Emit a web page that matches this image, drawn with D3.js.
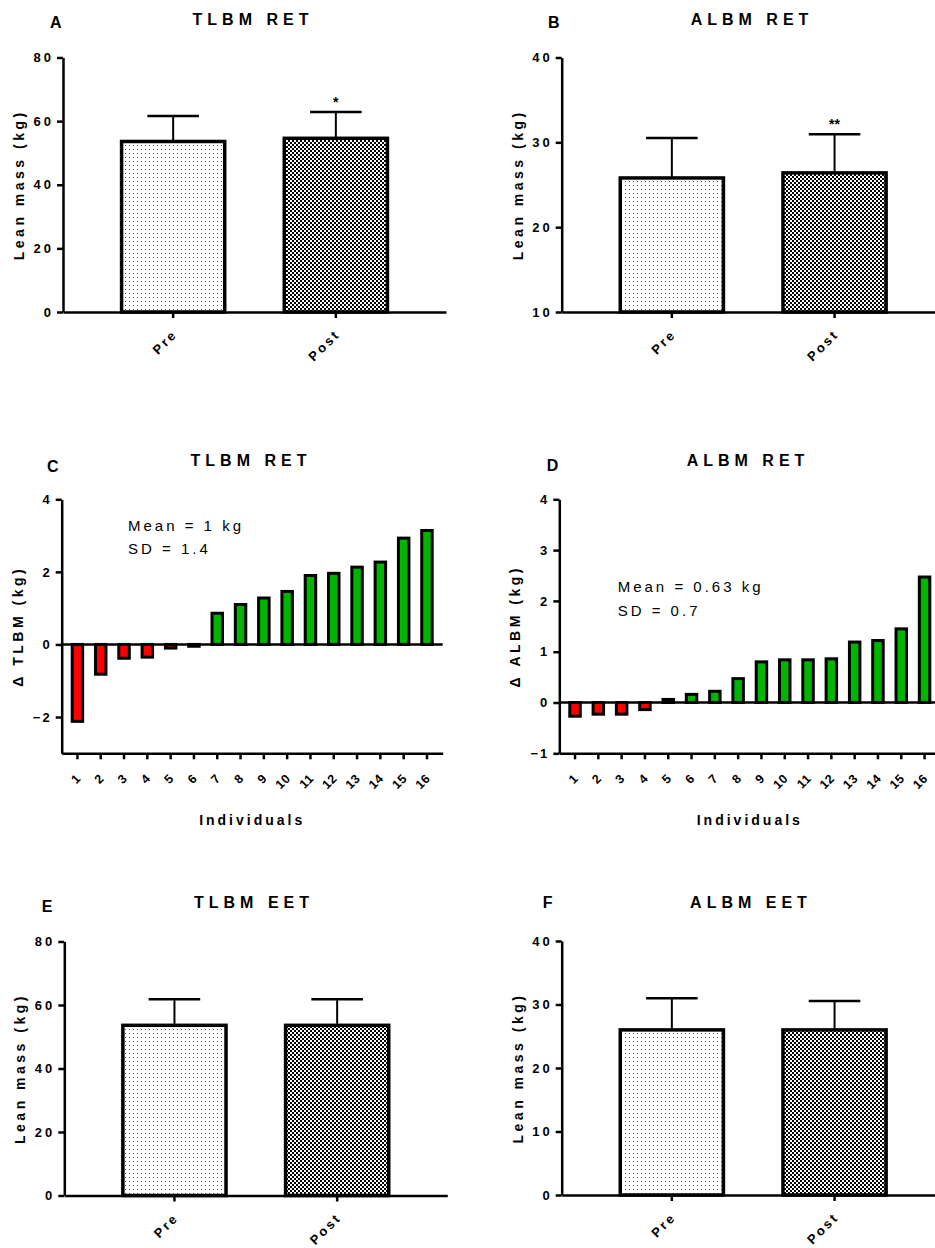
<!DOCTYPE html>
<html>
<head>
<meta charset="utf-8">
<script src="https://cdn.jsdelivr.net/npm/d3@7"></script>
<style>
  body { margin: 0; background: #fff; }
  svg { display: block; font-family: 'Liberation Sans', Arial, sans-serif; }
</style>
</head>
<body>
<script>
/// data ///
const groups = ['Pre', 'Post'];

// A: TLBM RET
const tlbmRetMean = [53.6, 54.6];
const tlbmRetSd = [8.0, 8.3];
const tlbmRetSig = ['', '*'];

// B: ALBM RET
const albmRetMean = [25.8, 26.4];
const albmRetSd = [4.7, 4.55];
const albmRetSig = ['', '**'];

// E: TLBM EET
const tlbmEetMean = [53.6, 53.6];
const tlbmEetSd = [8.2, 8.2];

// F: ALBM EET
const albmEetMean = [26.0, 26.0];
const albmEetSd = [5.0, 4.55];

// C / D: individual changes, sorted
const individuals = d3.range(1, 17).map(String);
const deltaTlbm = [-2.12, -0.82, -0.38, -0.35, -0.1, -0.05, 0.86, 1.1, 1.28, 1.46, 1.9, 1.96, 2.13, 2.27, 2.93, 3.14];
const deltaAlbm = [-0.27, -0.23, -0.23, -0.14, 0.06, 0.16, 0.22, 0.47, 0.8, 0.84, 0.84, 0.86, 1.19, 1.22, 1.45, 2.47];

const font = "'Liberation Sans', Arial, sans-serif";

const svg = d3.select('body')
    .append('svg')
    .attr('width', 935)
    .attr('height', 1248);

// fill patterns (dots for Pre, checkerboard for Post)
const defs = svg.append('defs');
const dots = defs.append('pattern')
    .attr('id', 'dots')
    .attr('patternUnits', 'userSpaceOnUse')
    .attr('width', 4).attr('height', 4);
dots.append('rect').attr('width', 4).attr('height', 4).attr('fill', '#fff');
dots.append('rect').attr('x', 1).attr('y', 1).attr('width', 1).attr('height', 1).attr('fill', '#555');

const checks = defs.append('pattern')
    .attr('id', 'checks')
    .attr('patternUnits', 'userSpaceOnUse')
    .attr('width', 4).attr('height', 4);
checks.append('rect').attr('width', 4).attr('height', 4).attr('fill', '#fff');
checks.append('rect').attr('width', 2).attr('height', 2).attr('fill', '#000');
checks.append('rect').attr('x', 2).attr('y', 2).attr('width', 2).attr('height', 2).attr('fill', '#000');

const fills = ['url(#dots)', 'url(#checks)'];

// common styling of an axis group
function styleAxis(g, size) {
    g.select('.domain').attr('stroke', '#000').attr('stroke-width', 2.5);
    g.selectAll('.tick line').attr('stroke', '#000').attr('stroke-width', 2.5);
    g.selectAll('.tick text')
        .attr('fill', '#000')
        .style('font-family', font)
        .style('font-size', size + 'px')
        .style('font-weight', 'bold');
}

function headings(p) {
    svg.append('text')
        .attr('x', p.letterX).attr('y', p.letterY)
        .style('font-size', '16px').style('font-weight', 'bold')
        .text(p.letter);
    svg.append('text')
        .attr('x', p.titleX).attr('y', p.titleY)
        .attr('text-anchor', 'middle')
        .style('font-size', '16px').style('font-weight', 'bold')
        .style('letter-spacing', '5px')
        .text(p.title);
}

function yLabel(p, text) {
    svg.append('text')
        .attr('transform', `translate(${p.x0 - 39},${(p.top + p.bottom) / 2}) rotate(-90)`)
        .attr('text-anchor', 'middle')
        .style('font-size', '14px').style('font-weight', 'bold')
        .style('letter-spacing', '3.5px')
        .text(text);
}

/// Pre / Post bar panel ///
function barPanel(p) {
    headings(p);

    const x = d3.scaleBand()
        .domain(groups)
        .range([p.x0, p.x0 + 383])
        .paddingInner(0.366)
        .paddingOuter(0.36);

    const y = d3.scaleLinear()
        .domain(p.domain)
        .range([p.bottom, p.top]);

    const rows = groups.map((g, i) => ({ g: g, mean: p.mean[i], sd: p.sd[i], sig: p.sig ? p.sig[i] : '', fill: fills[i] }));

    // error bars (upper only)
    const err = svg.append('g');
    err.selectAll('line.v')
        .data(rows).enter()
        .append('line')
        .attr('x1', d => x(d.g) + x.bandwidth() / 2)
        .attr('x2', d => x(d.g) + x.bandwidth() / 2)
        .attr('y1', d => y(d.mean))
        .attr('y2', d => y(d.mean + d.sd))
        .attr('stroke', '#000').attr('stroke-width', 2);
    err.selectAll('line.cap')
        .data(rows).enter()
        .append('line')
        .attr('x1', d => x(d.g) + x.bandwidth() / 4)
        .attr('x2', d => x(d.g) + x.bandwidth() * 3 / 4)
        .attr('y1', d => y(d.mean + d.sd))
        .attr('y2', d => y(d.mean + d.sd))
        .attr('stroke', '#000').attr('stroke-width', 2.5);

    // bars
    svg.append('g').selectAll('rect')
        .data(rows).enter()
        .append('rect')
        .attr('x', d => x(d.g))
        .attr('y', d => y(d.mean))
        .attr('width', x.bandwidth())
        .attr('height', d => y(p.domain[0]) - y(d.mean))
        .attr('fill', d => d.fill)
        .attr('stroke', '#000')
        .attr('stroke-width', 3.5);

    // significance marks
    svg.append('g').selectAll('text')
        .data(rows.filter(d => d.sig)).enter()
        .append('text')
        .attr('x', d => x(d.g) + x.bandwidth() / 2)
        .attr('y', d => y(d.mean + d.sd) - 5)
        .attr('text-anchor', 'middle')
        .style('font-size', '14px').style('font-weight', 'bold')
        .text(d => d.sig);

    // axes
    const yAxis = svg.append('g')
        .attr('transform', `translate(${p.x0},0)`)
        .call(d3.axisLeft(y).tickValues(p.ticks).tickFormat(d3.format('d'))
            .tickSize(6).tickSizeOuter(0).tickPadding(6));
    styleAxis(yAxis, 13);
    yAxis.selectAll('.tick text').style('letter-spacing', '3px').attr('dx', '3px');

    const xAxis = svg.append('g')
        .attr('transform', `translate(0,${p.bottom})`)
        .call(d3.axisBottom(x).tickSize(6).tickSizeOuter(0));
    styleAxis(xAxis, 13);
    xAxis.selectAll('.tick text')
        .attr('x', 0).attr('y', 0).attr('dy', 0)
        .attr('text-anchor', 'end')
        .attr('transform', 'translate(5,23) rotate(-45)')
        .style('letter-spacing', '2.5px');

    yLabel(p, 'Lean mass (kg)');
}

/// individual change panel ///
function deltaPanel(p) {
    headings(p);

    const x = d3.scaleBand()
        .domain(individuals)
        .range([p.x0, p.x0 + 381])
        .paddingInner(0.55)
        .paddingOuter(0.45);

    const y = d3.scaleLinear()
        .domain(p.domain)
        .range([p.bottom, p.top]);

    const rows = individuals.map((k, i) => ({ k: k, v: p.values[i] }));

    svg.append('g').selectAll('rect')
        .data(rows).enter()
        .append('rect')
        .attr('x', d => x(d.k))
        .attr('y', d => y(Math.max(0, d.v)))
        .attr('width', x.bandwidth())
        .attr('height', d => Math.abs(y(d.v) - y(0)))
        .attr('fill', d => d.v < 0 ? '#ff0000' : '#00b400')
        .attr('stroke', '#000')
        .attr('stroke-width', 3);

    // zero line
    svg.append('line')
        .attr('x1', p.x0).attr('x2', p.x0 + 381)
        .attr('y1', y(0)).attr('y2', y(0))
        .attr('stroke', '#000').attr('stroke-width', 2.5);

    const yAxis = svg.append('g')
        .attr('transform', `translate(${p.x0},0)`)
        .call(d3.axisLeft(y).tickValues(p.ticks).tickFormat(d3.format('d'))
            .tickSize(6).tickSizeOuter(0).tickPadding(6));
    styleAxis(yAxis, 13);
    yAxis.selectAll('.tick text').style('letter-spacing', '2px').attr('dx', '2px');

    const xAxis = svg.append('g')
        .attr('transform', `translate(0,${p.bottom})`)
        .call(d3.axisBottom(x).tickSize(6).tickSizeOuter(0));
    styleAxis(xAxis, 12.5);
    xAxis.selectAll('.tick text')
        .attr('x', 0).attr('y', 0).attr('dy', 0)
        .attr('text-anchor', 'end')
        .attr('transform', 'translate(4,26) rotate(-45)')
        .style('letter-spacing', '0.5px');

    svg.append('text')
        .attr('x', (p.x0 + p.x0 + 381) / 2).attr('y', p.bottom + 72)
        .attr('text-anchor', 'middle')
        .style('font-size', '14px').style('font-weight', 'bold')
        .style('letter-spacing', '3px')
        .text('Individuals');

    // mean / sd note
    p.note.forEach((t, i) => {
        svg.append('text')
            .attr('x', p.noteX).attr('y', p.noteY + i * 23.5)
            .style('font-size', '15px')
            .style('letter-spacing', '3px')
            .text(t);
    });

    yLabel(p, p.ylabel);
}

barPanel({ letter: 'A', letterX: 50, letterY: 28, title: 'TLBM RET', titleX: 253, titleY: 25,
    x0: 63, top: 57.5, bottom: 312, domain: [0, 80], ticks: [0, 20, 40, 60, 80],
    mean: tlbmRetMean, sd: tlbmRetSd, sig: tlbmRetSig });

barPanel({ letter: 'B', letterX: 548, letterY: 28, title: 'ALBM RET', titleX: 752, titleY: 25,
    x0: 561.7, top: 57.5, bottom: 312, domain: [10, 40], ticks: [10, 20, 30, 40],
    mean: albmRetMean, sd: albmRetSd, sig: albmRetSig });

deltaPanel({ letter: 'C', letterX: 47, letterY: 471.5, title: 'TLBM RET', titleX: 251, titleY: 466,
    x0: 61.7, top: 499.3, bottom: 753.3, domain: [-3, 4], ticks: [-2, 0, 2, 4],
    values: deltaTlbm, ylabel: '\u0394 TLBM (kg)',
    note: ['Mean = 1 kg', 'SD = 1.4'], noteX: 128, noteY: 530.5 });

deltaPanel({ letter: 'D', letterX: 546.7, letterY: 470.7, title: 'ALBM RET', titleX: 748, titleY: 466,
    x0: 559.3, top: 499.3, bottom: 753.3, domain: [-1, 4], ticks: [-1, 0, 1, 2, 3, 4],
    values: deltaAlbm, ylabel: '\u0394 ALBM (kg)',
    note: ['Mean = 0.63 kg', 'SD = 0.7'], noteX: 617.7, noteY: 592.3 });

barPanel({ letter: 'E', letterX: 41.7, letterY: 911.7, title: 'TLBM EET', titleX: 254, titleY: 908.3,
    x0: 64.3, top: 941.5, bottom: 1195.5, domain: [0, 80], ticks: [0, 20, 40, 60, 80],
    mean: tlbmEetMean, sd: tlbmEetSd });

barPanel({ letter: 'F', letterX: 542.7, letterY: 908.3, title: 'ALBM EET', titleX: 751, titleY: 908.3,
    x0: 561.7, top: 941, bottom: 1195, domain: [0, 40], ticks: [0, 10, 20, 30, 40],
    mean: albmEetMean, sd: albmEetSd });
</script>
</body>
</html>
